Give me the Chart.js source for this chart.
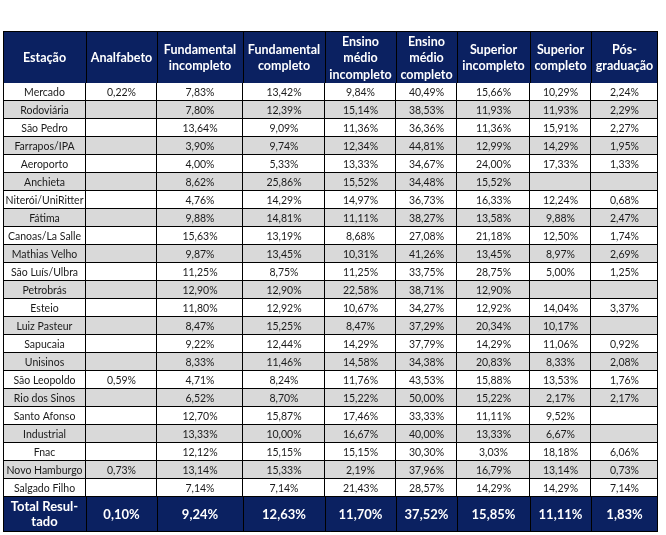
<!DOCTYPE html>
<html lang="pt">
<head>
    <meta charset="UTF-8">
    <title>Escolaridade por estação</title>
    <style>
        body {
            margin: 0;
            padding: 0;
            background: white;
        }
        .wrap {
            width: 666px;
            height: 535px;
        }
    </style>
    <script src="https://cdn.jsdelivr.net/npm/chart.js"></script>
</head>
<body>
    <div class="wrap"><canvas id="tabela"></canvas></div>

    <script>
        const stations = ['Mercado', 'Rodoviária', 'São Pedro', 'Farrapos/IPA', 'Aeroporto', 'Anchieta',
            'Niterói/UniRitter', 'Fátima', 'Canoas/La Salle', 'Mathias Velho', 'São Luís/Ulbra', 'Petrobrás',
            'Esteio', 'Luiz Pasteur', 'Sapucaia', 'Unisinos', 'São Leopoldo', 'Rio dos Sinos', 'Santo Afonso',
            'Industrial', 'Fnac', 'Novo Hamburgo', 'Salgado Filho'];

        const headers = [['Estação'], ['Analfabeto'], ['Fundamental', 'incompleto'], ['Fundamental', 'completo'],
            ['Ensino', 'médio', 'incompleto'], ['Ensino', 'médio', 'completo'], ['Superior', 'incompleto'],
            ['Superior', 'completo'], ['Pós-', 'graduação']];

        const analfabeto = [0.22, null, null, null, null, null, null, null, null, null, null, null,
            null, null, null, null, 0.59, null, null, null, null, 0.73, null];
        const fundIncompleto = [7.83, 7.80, 13.64, 3.90, 4.00, 8.62, 4.76, 9.88, 15.63, 9.87, 11.25, 12.90,
            11.80, 8.47, 9.22, 8.33, 4.71, 6.52, 12.70, 13.33, 12.12, 13.14, 7.14];
        const fundCompleto = [13.42, 12.39, 9.09, 9.74, 5.33, 25.86, 14.29, 14.81, 13.19, 13.45, 8.75, 12.90,
            12.92, 15.25, 12.44, 11.46, 8.24, 8.70, 15.87, 10.00, 15.15, 15.33, 7.14];
        const medioIncompleto = [9.84, 15.14, 11.36, 12.34, 13.33, 15.52, 14.97, 11.11, 8.68, 10.31, 11.25, 22.58,
            10.67, 8.47, 14.29, 14.58, 11.76, 15.22, 17.46, 16.67, 15.15, 2.19, 21.43];
        const medioCompleto = [40.49, 38.53, 36.36, 44.81, 34.67, 34.48, 36.73, 38.27, 27.08, 41.26, 33.75, 38.71,
            34.27, 37.29, 37.79, 34.38, 43.53, 50.00, 33.33, 40.00, 30.30, 37.96, 28.57];
        const superiorIncompleto = [15.66, 11.93, 11.36, 12.99, 24.00, 15.52, 16.33, 13.58, 21.18, 13.45, 28.75, 12.90,
            12.92, 20.34, 14.29, 20.83, 15.88, 15.22, 11.11, 13.33, 3.03, 16.79, 14.29];
        const superiorCompleto = [10.29, 11.93, 15.91, 14.29, 17.33, null, 12.24, 9.88, 12.50, 8.97, 5.00, null,
            14.04, 10.17, 11.06, 8.33, 13.53, 2.17, 9.52, 6.67, 18.18, 13.14, 14.29];
        const posGraduacao = [2.24, 2.29, 2.27, 1.95, 1.33, null, 0.68, 2.47, 1.74, 2.69, 1.25, null,
            3.37, null, 0.92, 2.08, 1.76, 2.17, null, null, 6.06, 0.73, 7.14];

        const totalLabel = ['Total Resul-', 'tado'];
        const totals = [0.10, 9.24, 12.63, 11.70, 37.52, 15.85, 11.11, 1.83];

        const columns = [analfabeto, fundIncompleto, fundCompleto, medioIncompleto, medioCompleto,
            superiorIncompleto, superiorCompleto, posGraduacao];

        // layout
        const colWidths = [83, 71, 86, 82, 71, 61, 73, 61, 67];
        const navy = '#0b2161';
        const stripe = '#d9d9d9';
        const bodyFont = '10.5px Lato';
        const headFont = 'bold 12.5px Lato';

        function pct(v) {
            return v.toFixed(2).replace('.', ',') + '%';
        }

        const datasets = colWidths.map((w, c) => ({
            label: c === 0 ? 'Estação' : headers[c].join(' '),
            data: stations.map(() => w),
            backgroundColor: stations.map((s, i) => i % 2 ? stripe : '#ffffff'),
            borderColor: '#000000',
            borderWidth: { top: 0, right: 1, bottom: 1, left: c === 0 ? 1 : 0 },
            borderSkipped: false,
            inflateAmount: 0.001,
            barPercentage: 1,
            categoryPercentage: 1
        }));

        const tablePlugin = {
            id: 'tablePlugin',
            afterDatasetsDraw(chart) {
                const { ctx, chartArea, scales: { x } } = chart;
                const edges = [0];
                colWidths.forEach(w => edges.push(edges[edges.length - 1] + w));
                const px = edges.map(v => Math.round(x.getPixelForValue(v)));
                const left = px[0], right = px[px.length - 1];

                ctx.save();
                ctx.textAlign = 'center';
                ctx.textBaseline = 'middle';

                // cell texts
                chart.data.datasets.forEach((ds, c) => {
                    const meta = chart.getDatasetMeta(c);
                    meta.data.forEach((bar, i) => {
                        const { x: xe, y, base } = bar.getProps(['x', 'y', 'base'], true);
                        let txt = c === 0 ? stations[i] : columns[c - 1][i];
                        if (txt === null) return;
                        if (c > 0) txt = pct(txt);
                        ctx.fillStyle = '#1a1a1a';
                        ctx.font = bodyFont;
                        ctx.fillText(txt, (xe + base) / 2, y + 0.5);
                    });
                });

                // header
                const hTop = 31, hBottom = chartArea.top;
                ctx.fillStyle = navy;
                ctx.fillRect(left, hTop, right - left, hBottom - hTop);
                ctx.fillStyle = '#ffffff';
                ctx.font = headFont;
                const hMid = (hTop + hBottom) / 2 + 1;
                headers.forEach((lines, c) => {
                    const cx = (px[c] + px[c + 1]) / 2;
                    lines.forEach((ln, k) => {
                        ctx.fillText(ln, cx, hMid + (k - (lines.length - 1) / 2) * 16.5);
                    });
                });

                // total row
                const tTop = chartArea.bottom, tBottom = tTop + 35;
                ctx.fillStyle = navy;
                ctx.fillRect(left, tTop, right - left, tBottom - tTop);
                ctx.fillStyle = '#ffffff';
                ctx.font = 'bold 13px Lato';
                const tMid = (tTop + tBottom) / 2;
                totalLabel.forEach((ln, k) => {
                    ctx.fillText(ln, (px[0] + px[1]) / 2, tMid + (k - 0.5) * 15);
                });
                totals.forEach((v, c) => {
                    ctx.fillText(pct(v), (px[c + 1] + px[c + 2]) / 2, tMid);
                });

                // grid lines of header and total
                ctx.strokeStyle = '#000000';
                ctx.lineWidth = 1;
                ctx.beginPath();
                px.forEach(p => {
                    const xx = p === right ? p - 0.5 : p + 0.5;
                    ctx.moveTo(xx, hTop); ctx.lineTo(xx, hBottom);
                    ctx.moveTo(xx, tTop); ctx.lineTo(xx, tBottom);
                });
                ctx.moveTo(left, hTop + 0.5); ctx.lineTo(right, hTop + 0.5);
                ctx.moveTo(left, tBottom - 0.5); ctx.lineTo(right, tBottom - 0.5);
                ctx.stroke();
                ctx.restore();
            }
        };

        new Chart(document.getElementById('tabela'), {
            type: 'bar',
            data: { labels: stations, datasets: datasets },
            options: {
                indexAxis: 'y',
                responsive: true,
                maintainAspectRatio: false,
                animation: false,
                layout: { padding: { left: 3, right: 8, top: 83, bottom: 38 } },
                scales: {
                    x: { type: 'linear', stacked: true, min: 0, max: 655, display: false },
                    y: { stacked: true, display: false }
                },
                plugins: {
                    legend: { display: false },
                    tooltip: { enabled: false }
                }
            },
            plugins: [tablePlugin]
        });
    </script>
</body>
</html>
